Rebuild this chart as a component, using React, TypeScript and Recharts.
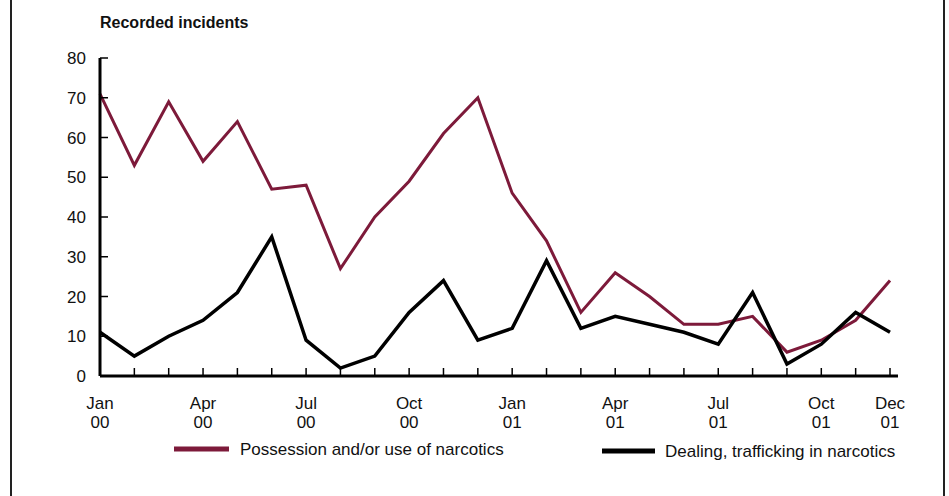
import React from "react";
import { LineChart, Line, XAxis, YAxis, Legend } from "recharts";

const months = ["Jan 00","Feb 00","Mar 00","Apr 00","May 00","Jun 00","Jul 00","Aug 00","Sep 00","Oct 00","Nov 00","Dec 00","Jan 01","Feb 01","Mar 01","Apr 01","May 01","Jun 01","Jul 01","Aug 01","Sep 01","Oct 01","Nov 01","Dec 01"];
const possession = [71,53,69,54,64,47,48,27,40,49,61,70,46,34,16,26,20,13,13,15,6,9,14,24];
const dealing = [11,5,10,14,21,35,9,2,5,16,24,9,12,29,12,15,13,11,8,21,3,8,16,11];
const labeledMonths = ["Jan 00","Apr 00","Jul 00","Oct 00","Jan 01","Apr 01","Jul 01","Oct 01","Dec 01"];
const yTicks = [0,10,20,30,40,50,60,70,80];

const data = months.map((m, i) => ({ month: m, possession: possession[i], dealing: dealing[i] }));

const FONT = "'Liberation Sans Narrow', 'Liberation Sans', Arial, sans-serif";
const MAROON = "#7d1a3a";

const XTick = (props: any) => {
  const { x, y, payload } = props;
  const label: string = payload.value;
  const show = labeledMonths.includes(label);
  const [mon, yr] = label.split(" ");
  return (
    <g>
      <line x1={x} x2={x} y1={y - 8} y2={y} stroke="#000" strokeWidth={1.5} />
      {show && (
        <text x={x} y={y + 33} textAnchor="middle" fontFamily={FONT} fontSize={17} fill="#111">
          <tspan x={x} dy={0}>{mon}</tspan>
          <tspan x={x} dy={19}>{yr}</tspan>
        </text>
      )}
    </g>
  );
};

const YTick = (props: any) => {
  const { x, y, payload } = props;
  return (
    <g>
      <line x1={x} x2={x + 8} y1={y} y2={y} stroke="#000" strokeWidth={1.5} />
      <text x={x - 14} y={y + 6} textAnchor="end" fontFamily={FONT} fontSize={17} fill="#111">{payload.value}</text>
    </g>
  );
};

const LegendContent = () => (
  <svg width={949} height={30} style={{ display: "block" }}>
    <line x1={174} x2={229} y1={14} y2={14} stroke={MAROON} strokeWidth={5} />
    <text x={240} y={20} fontFamily={FONT} fontSize={17} fill="#111">Possession and/or use of narcotics</text>
    <line x1={602} x2={655} y1={16} y2={16} stroke="#000" strokeWidth={5} />
    <text x={665} y={22} fontFamily={FONT} fontSize={17} fill="#111">Dealing, trafficking in narcotics</text>
  </svg>
);

export default function App() {
  return (
    <div style={{ position: "absolute", left: 0, top: 0, width: 949, height: 496, background: "#fff" }}>
      <div style={{ position: "absolute", left: 10, top: 0, width: 2, height: 496, background: "#222" }} />
      <div style={{ position: "absolute", left: 943, top: 0, width: 2, height: 496, background: "#222" }} />
      <div style={{ position: "absolute", left: 100, top: 14, fontFamily: "'Liberation Sans', Arial, sans-serif", fontWeight: "bold", fontSize: 16, color: "#111" }}>
        Recorded incidents
      </div>
      <LineChart width={949} height={496} data={data} margin={{ top: 58, right: 51, bottom: 30, left: 40 }}>
        <XAxis
          dataKey="month"
          interval={0}
          tick={<XTick />}
          tickLine={false}
          tickSize={0}
          tickMargin={0}
          height={60}
          padding={{ left: 0, right: 8 }}
          axisLine={{ stroke: "#000", strokeWidth: 3 }}
        />
        <YAxis
          domain={[0, 80]}
          ticks={yTicks}
          interval={0}
          tick={<YTick />}
          tickLine={false}
          tickSize={0}
          tickMargin={0}
          width={60}
          axisLine={{ stroke: "#000", strokeWidth: 3 }}
        />
        <Legend content={<LegendContent />} wrapperStyle={{ position: "absolute", left: 0, top: 435, width: 949, height: 30 }} />
        <Line type="linear" dataKey="possession" stroke={MAROON} strokeWidth={3} dot={false} isAnimationActive={false} />
        <Line type="linear" dataKey="dealing" stroke="#000" strokeWidth={3.5} dot={false} isAnimationActive={false} />
      </LineChart>
    </div>
  );
}
